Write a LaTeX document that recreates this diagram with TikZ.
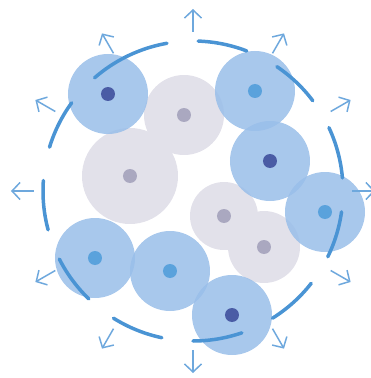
\documentclass[tikz,border=0pt]{standalone}
\usepackage{tikz}
\usetikzlibrary{arrows.meta}
\definecolor{cellblue}{RGB}{153,190,233}
\definecolor{cellgray}{RGB}{226,225,234}
\definecolor{coredark}{RGB}{74,92,165}
\definecolor{corelight}{RGB}{90,162,220}
\definecolor{coregray}{RGB}{170,168,192}
\definecolor{rimblue}{RGB}{74,148,212}
\definecolor{pushblue}{RGB}{110,168,221}

\begin{document}
\begin{tikzpicture}[x=1pt,y=1pt,
        bluecell/.style={circle,fill=cellblue,fill opacity=0.85,inner sep=0pt,minimum size=80pt},
        graycell/.style={circle,fill=cellgray,inner sep=0pt},
        core/.style={circle,inner sep=0pt,minimum size=14pt},
        rim/.style={draw=rimblue,line width=3.5pt,line cap=round},
        push/.style={draw=pushblue,line width=1.5pt,-{Straight Barb[length=8pt,width=17pt,line width=1.5pt]}}]
        \useasboundingbox (-193,-187) rectangle (178,191);
        % inner grey cells
        \node[graycell,minimum size=80pt] (ga) at (-9,76) {};
        \node[graycell,minimum size=96pt] (gb) at (-63,15) {};
        \node[graycell,minimum size=68pt] (gc) at (31,-25) {};
        \node[graycell,minimum size=72pt] (gd) at (71,-56) {};
        \foreach \g in {ga,gb,gc,gd}
          \node[core,fill=coregray] (\g-core) at (\g) {};
        % outer blue cells
        \node[bluecell] (b1) at (-85,97) {};
        \node[bluecell] (b2) at (62,100) {};
        \node[bluecell] (b3) at (77,30) {};
        \node[bluecell] (b4) at (132,-21) {};
        \node[bluecell] (b5) at (-98,-67) {};
        \node[bluecell] (b6) at (-23,-80) {};
        \node[bluecell] (b7) at (39,-124) {};
        \foreach \b in {b1,b3,b7}
          \node[core,fill=coredark] (\b-core) at (\b) {};
        \foreach \b in {b2,b4,b5,b6}
          \node[core,fill=corelight] (\b-core) at (\b) {};
        % broken ring
        \foreach \s/\e in {100/131,69/88,37/56,5/25,-26/-8,-58/-38,-90/-71,
                           -122/-102,-153/-134,176/195,144/163}
          \draw[rim] (\s:150) arc (\s:\e:150);
        % outward arrows
        \foreach \a in {0,30,...,330}
          \draw[push] (\a:159) -- (\a:182);
      \end{tikzpicture}
\end{document}
